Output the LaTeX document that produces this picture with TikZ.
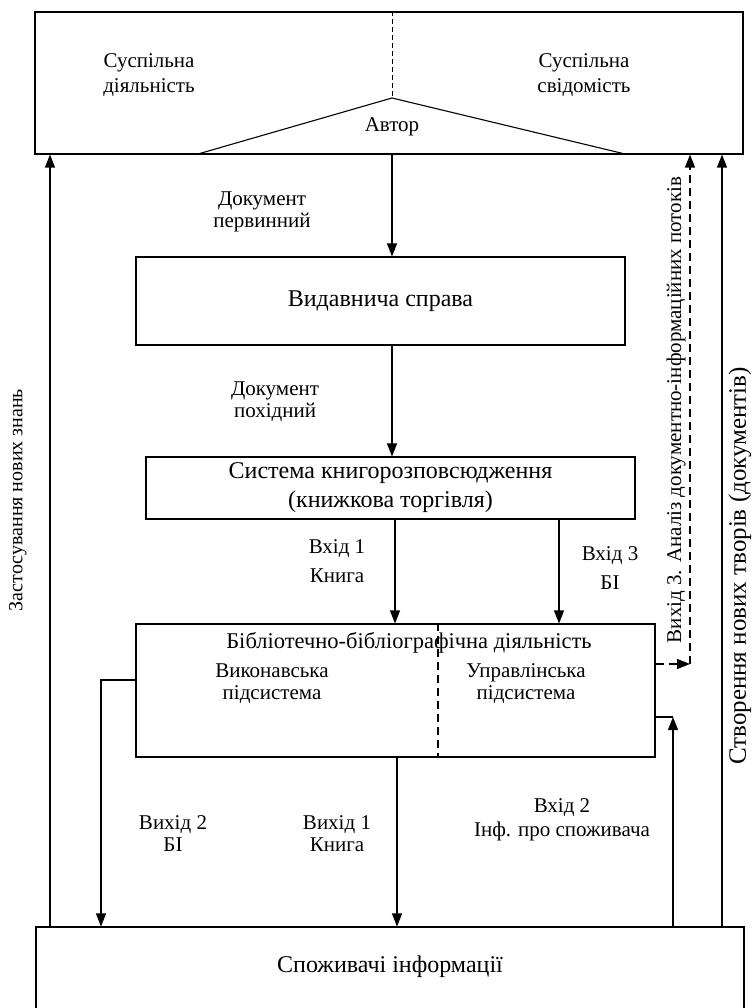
\documentclass[tikz,border=0pt]{standalone}
\usepackage{fontspec}
\setmainfont{Liberation Serif}
\usetikzlibrary{arrows.meta}
\begin{document}
\begin{tikzpicture}[x=1pt,y=-1pt,
  box/.style={draw, line width=1.1pt, inner sep=0pt, rectangle},
  lbl/.style={font=\fontsize{21}{22}\selectfont, align=center, inner sep=0pt},
  big/.style={font=\fontsize{24}{29}\selectfont, align=center, inner sep=0pt},
  ln/.style={line width=1.1pt},
  arr/.style={line width=1.1pt, -{Triangle[length=13pt,width=10pt]}},
  dsh/.style={line width=1.1pt, dash pattern=on 8pt off 5pt},
  fdsh/.style={line width=0.9pt, dash pattern=on 5pt off 3pt},
]
\useasboundingbox (0,0) rectangle (754,1008);

% boxes
\node[box, minimum width=708pt, minimum height=142pt] (top) at (389,83) {};
\node[box, big, minimum width=489pt, minimum height=88pt] (vyd) at (380.5,301) {Видавнича справа};
\node[box, big, minimum width=489pt, minimum height=62pt] (sys) at (390.5,488) {Система книгорозповсюдження\\(книжкова торгівля)};
\node[box, minimum width=519pt, minimum height=133pt] (bib) at (395.5,690.5) {};
\node[box, minimum width=708pt, minimum height=88pt] (cons) at (390,971) {};

% top box content
\coordinate (apex) at (392,98);
\coordinate (tl) at (198,154);
\coordinate (tr) at (625,154);
\draw[ln] (tl) -- (apex) -- (tr);
\draw[fdsh] (top.north -| apex) -- (apex);
\node[lbl, font=\fontsize{21}{25}\selectfont] (sd) at (149,75) {Суспільна\\діяльність};
\node[lbl, font=\fontsize{21}{25}\selectfont] (ss) at (584,75) {Суспільна\\свідомість};
\node[lbl] (avtor) at (392,127) {Автор};

% biblio content
\node[lbl, font=\fontsize{22.5}{25}\selectfont] (bibt) at (409,643) {Бібліотечно-бібліографічна діяльність};
\node[lbl] (vyk) at (272,684) {Виконавська\\підсистема};
\node[lbl] (upr) at (526,684) {Управлінська\\підсистема};
\coordinate (bd) at (438,0);
\draw[dsh] (bib.north -| bd) -- (bib.south -| bd);

\node[big] (consT) at (390,967) {Споживачі інформації};

% x / y reference coordinates
\coordinate (x1) at (392,0);
\coordinate (x2) at (395,0);
\coordinate (x3) at (559,0);
\coordinate (x4) at (397,0);
\coordinate (xl) at (101,0);
\coordinate (yl) at (0,680);
\coordinate (xr) at (673,0);
\coordinate (yr) at (0,717);
\coordinate (dc) at (690,664);
\coordinate (xs) at (722,0);
\coordinate (xL) at (50,0);

% main flow
\draw[arr] (top.south -| x1) -- (vyd.north -| x1);
\draw[arr] (vyd.south -| x1) -- (sys.north -| x1);
\draw[arr] (sys.south -| x2) -- (bib.north -| x2);
\draw[arr] (sys.south -| x3) -- (bib.north -| x3);
\draw[arr] (bib.south -| x4) -- (cons.north -| x4);
\draw[arr] (bib.west |- yl) -| (cons.north -| xl);
\draw[arr] (cons.north -| xr) -- (xr |- yr);
\draw[ln] (xr |- yr) -- (bib.east |- yr);
\draw[dsh, -{Triangle[length=13pt,width=10pt]}] (bib.east |- dc) -- (dc);
\draw[dsh, -{Triangle[length=13pt,width=10pt]}] (dc) -- (top.south -| dc);
\draw[arr] (cons.north -| xs) -- (top.south -| xs);
\draw[arr] (cons.north -| xL) -- (top.south -| xL);

% labels
\node[lbl] (l1) at (262,212) {Документ\\первинний};
\node[lbl] (l2) at (275,402) {Документ\\похідний};
\node[lbl, font=\fontsize{21}{29}\selectfont] (l3) at (337,561) {Вхід 1\\Книга};
\node[lbl, font=\fontsize{21}{29}\selectfont] (l4) at (610,568) {Вхід 3\\БІ};
\node[lbl] (l5) at (173,834) {Вихід 2\\БІ};
\node[lbl] (l6) at (337,834) {Вихід 1\\Книга};
\node[lbl, font=\fontsize{21}{24}\selectfont] (l7) at (562,820) {Вхід 2\\Інф. про споживача};

% vertical texts
\node[lbl, font=\fontsize{20}{24}\selectfont, rotate=90] (vl) at (18,500) {Застосування нових знань};
\node[lbl, font=\fontsize{21}{24}\selectfont, rotate=90] (v3) at (676,410) {Вихід 3. Аналіз документно-інформаційних потоків};
\node[lbl, font=\fontsize{25}{28}\selectfont, rotate=90] (vn) at (740,566) {Створення нових творів (документів)};
\end{tikzpicture}
\end{document}
